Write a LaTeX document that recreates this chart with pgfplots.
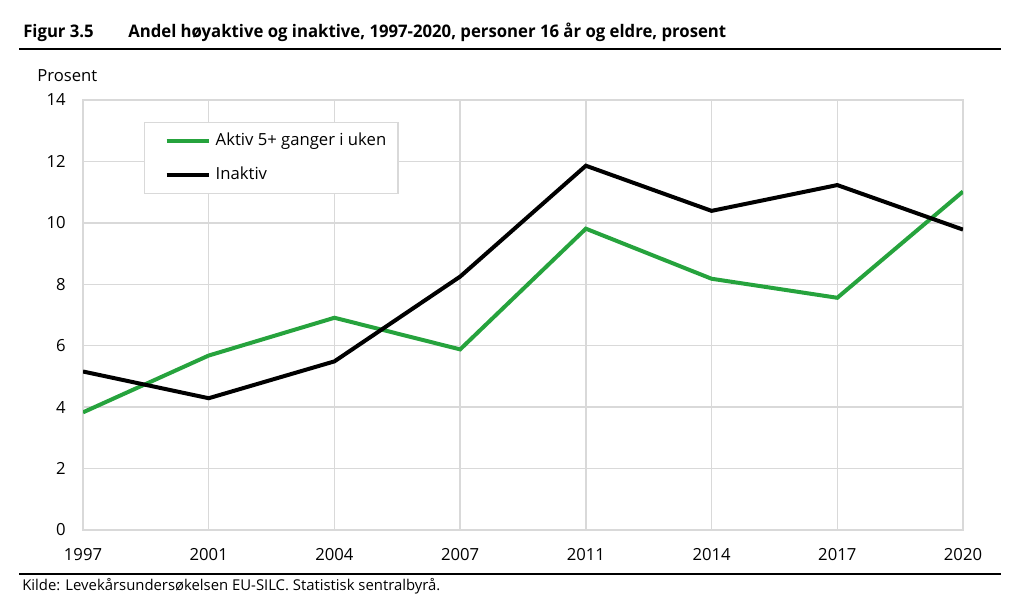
\documentclass[border=0pt]{standalone}
\usepackage{fontspec}
\setmainfont{Open Sans}
\newfontfamily\titlefont[FakeStretch=0.965]{Open Sans Bold}
\usepackage{pgfplots}
\pgfplotsset{compat=1.18}
\definecolor{ssbgreen}{RGB}{38,163,61}
\definecolor{gridgray}{RGB}{217,217,217}
\begin{document}
\begin{tikzpicture}
\useasboundingbox (0,0) rectangle (768pt,456.75pt);
\fontsize{12.5pt}{15pt}\selectfont
\begin{axis}[
  at={(62.25pt,59.25pt)}, anchor=south west,
  scale only axis, width=660pt, height=322.5pt,
  xmin=0, xmax=7, ymin=0, ymax=14,
  xtick={0,1,2,3,4,5,6,7},
  xticklabels={1997,2001,2004,2007,2011,2014,2017,2020},
  ytick={0,2,4,6,8,10,12,14},
  grid=major,
  major grid style={draw=gridgray, line width=1.1pt},
  axis line style={draw=gridgray, line width=1.1pt},
  major tick length=0pt,
  tick label style={font=\fontsize{12.5pt}{15pt}\selectfont, inner sep=0pt},
  /pgf/number format/assume math mode=true,
  yticklabel style={anchor=east, xshift=-12.75pt},
  xticklabel style={anchor=north, yshift=-13.5pt},
  legend cell align=left,
  legend image code/.code={\draw[#1] (0pt,0pt) -- (31.5pt,0pt);},
  legend style={
    at={(0.0693,0.9488)}, anchor=north west,
    draw=gridgray, line width=1.1pt,
    inner xsep=15pt, inner ysep=7.75pt,
    font=\fontsize{12.5pt}{15pt}\selectfont,
    row sep=13.5pt, column sep=3.75pt,
    nodes={inner sep=0pt, text height=9pt, text depth=3pt},
  },
]
\addplot[ssbgreen, line width=3pt] coordinates {
  (0,3.83) (1,5.68) (2,6.91) (3,5.88) (4,9.81) (5,8.18) (6,7.56) (7,11.02)
};
\addlegendentry{Aktiv 5+ ganger i uken\hspace*{-6pt}}
\addplot[black, line width=3pt] coordinates {
  (0,5.16) (1,4.29) (2,5.49) (3,8.25) (4,11.86) (5,10.39) (6,11.23) (7,9.78)
};
\addlegendentry{Inaktiv}
\end{axis}
\draw[line width=2pt] (14.25pt,420pt) -- (750.75pt,420pt);
\draw[line width=2pt] (14.25pt,26.25pt) -- (750.75pt,26.25pt);
\node[anchor=base west, inner sep=0pt, font=\titlefont\fontsize{13pt}{15pt}\selectfont] at (17.25pt,428.25pt) {Figur 3.5};
\node[anchor=base west, inner sep=0pt, font=\titlefont\fontsize{13pt}{15pt}\selectfont] at (96pt,428.25pt) {Andel høyaktive og inaktive, 1997-2020, personer 16 år og eldre, prosent};
\node[anchor=base west, inner sep=0pt] at (27.75pt,395.25pt) {Prosent};
\node[anchor=base west, inner sep=0pt, font=\fontsize{11.15pt}{13pt}\selectfont] at (16.5pt,13.5pt) {Kilde: Levekårsundersøkelsen EU-SILC. Statistisk sentralbyrå.};
\end{tikzpicture}
\end{document}
